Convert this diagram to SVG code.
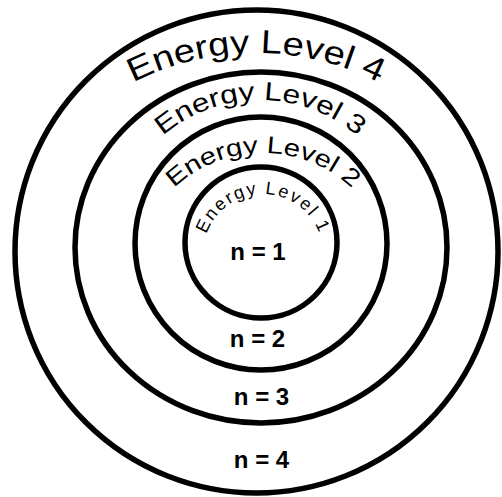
<svg xmlns="http://www.w3.org/2000/svg" width="502" height="497" viewBox="0 0 502 497">
  <defs>
    <style>
      .ring { fill: none; stroke: #000; stroke-width: 5.5; }
      .arc { font-family: "Liberation Sans", Arial, sans-serif; fill: #000; }
      .n { font-family: "Liberation Sans", Arial, sans-serif; font-weight: bold; font-size: 24px; fill: #000; text-anchor: middle; }
    </style>
    <path id="p4" d="M 22.2 188 A 270 270 0 0 1 489.8 188"/>
    <path id="p3" d="M 119.05 198.7 A 150 150 0 0 1 400.95 198.7"/>
    <path id="p2" d="M 137.4 249.4 A 130 130 0 0 1 388.6 249.4"/>
    <path id="p1" d="M 206.6 274.5 A 60 60 0 1 1 319.4 274.5"/>
  </defs>
  <rect width="502" height="497" fill="#fff"/>
  <g id="level4">
    <ellipse class="ring" cx="256.5" cy="251.5" rx="241.5" ry="241.5"/>
    <text class="arc" font-size="33"><textPath href="#p4" startOffset="155.2" textLength="255" lengthAdjust="spacingAndGlyphs">Energy Level 4</textPath></text>
    <text class="n" x="261.5" y="468">n = 4</text>
  </g>
  <g id="level3">
    <ellipse class="ring" cx="261" cy="247.5" rx="186" ry="175.5"/>
    <text class="arc" font-size="26"><textPath href="#p3" startOffset="77.3" textLength="212" lengthAdjust="spacingAndGlyphs">Energy Level 3</textPath></text>
    <text class="n" x="261.5" y="405">n = 3</text>
  </g>
  <g id="level2">
    <ellipse class="ring" cx="261" cy="243.5" rx="126" ry="126.5"/>
    <text class="arc" font-size="24"><textPath href="#p2" startOffset="72.2" textLength="196" lengthAdjust="spacingAndGlyphs">Energy Level 2</textPath></text>
    <text class="n" x="257.5" y="347">n = 2</text>
  </g>
  <g id="level1">
    <ellipse class="ring" cx="261" cy="242.5" rx="76" ry="75.5"/>
    <text class="arc" font-size="18" letter-spacing="2"><textPath href="#p1" startOffset="41">Energy Level 1</textPath></text>
    <text class="n" x="258" y="260">n = 1</text>
  </g>
  <g id="connectors"/>
</svg>
